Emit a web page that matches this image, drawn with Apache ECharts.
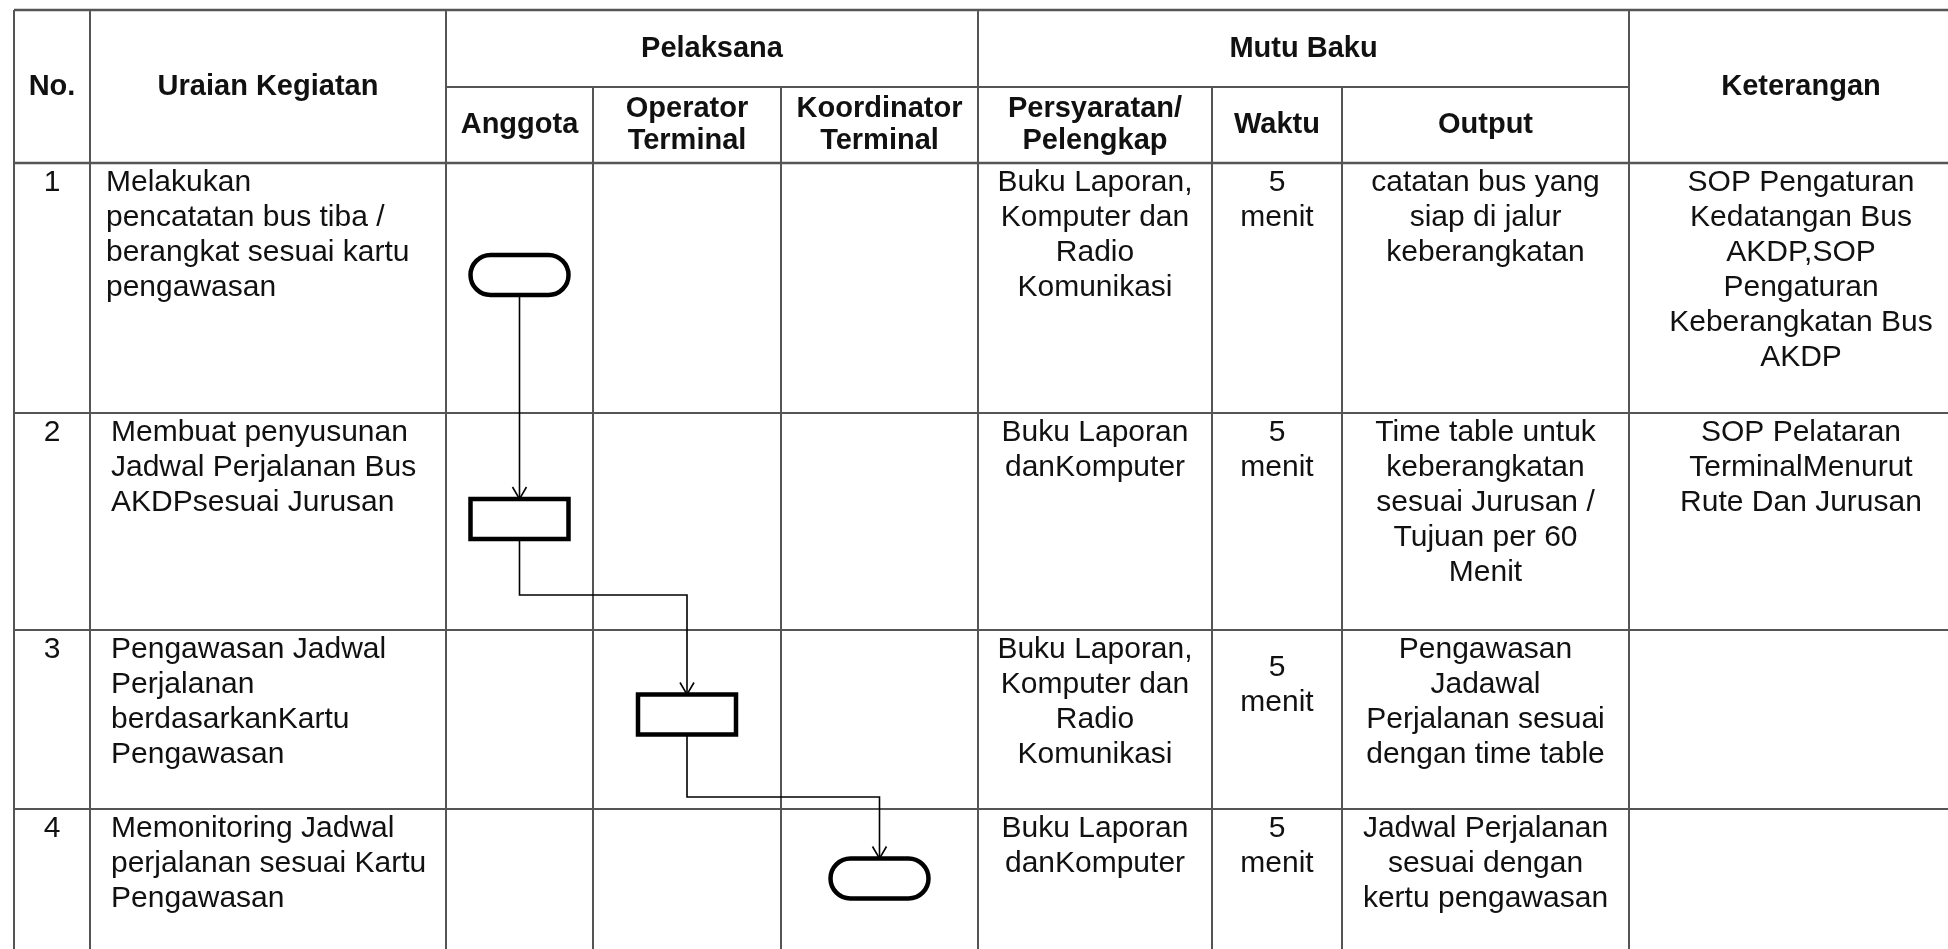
<!DOCTYPE html>
<html>
<head>
<meta charset="utf-8">
<script src="https://cdn.jsdelivr.net/npm/echarts@6/dist/echarts.min.js"></script>
<style>
  html, body { margin: 0; padding: 0; background: #fff; }
  #chart { width: 1948px; height: 949px; }
</style>
</head>
<body>
<div id="chart"></div>
<script>
// ---------------- DATA (content) ----------------
const headNo = 'No.';
const headUraian = 'Uraian Kegiatan';
const headPelaksana = 'Pelaksana';
const headMutuBaku = 'Mutu Baku';
const headKeterangan = 'Keterangan';
const pelaksanaRoles = ['Anggota', 'Operator\nTerminal', 'Koordinator\nTerminal'];
const mutuBakuCols = ['Persyaratan/\nPelengkap', 'Waktu', 'Output'];

const stepNo = ['1', '2', '3', '4'];
const uraianKegiatan = [
  'Melakukan\npencatatan bus tiba /\nberangkat sesuai kartu\npengawasan',
  'Membuat penyusunan\nJadwal Perjalanan Bus\nAKDPsesuai Jurusan',
  'Pengawasan Jadwal\nPerjalanan\nberdasarkanKartu\nPengawasan',
  'Memonitoring Jadwal\nperjalanan sesuai Kartu\nPengawasan'
];
const persyaratan = [
  'Buku Laporan,\nKomputer dan\nRadio\nKomunikasi',
  'Buku Laporan\ndanKomputer',
  'Buku Laporan,\nKomputer dan\nRadio\nKomunikasi',
  'Buku Laporan\ndanKomputer'
];
const waktu = ['5\nmenit', '5\nmenit', '5\nmenit', '5\nmenit'];
const outputs = [
  'catatan bus yang\nsiap di jalur\nkeberangkatan',
  'Time table untuk\nkeberangkatan\nsesuai Jurusan /\nTujuan per 60\nMenit',
  'Pengawasan\nJadawal\nPerjalanan sesuai\ndengan time table',
  'Jadwal Perjalanan\nsesuai dengan\nkertu pengawasan'
];
const keterangan = [
  'SOP Pengaturan\nKedatangan Bus\nAKDP,SOP\nPengaturan\nKeberangkatan Bus\nAKDP',
  'SOP Pelataran\nTerminalMenurut\nRute Dan Jurusan',
  '',
  ''
];
// flow: which Pelaksana lane performs each step, and its symbol
const flowLane = [0, 0, 1, 2];
const flowShape = ['terminator', 'process', 'process', 'terminator'];

// ---------------- LAYOUT (positions / sizes, in page px) ----------------
const colX = [14, 90, 446, 593, 781, 978, 1212, 1342, 1629, 1973];
const rowY = [10, 87, 163, 413, 630, 809, 960];
const uraianIndent = [16, 21, 21, 21];
const waktuShift = [0, 0, 18, 0];
const shapeShiftY = [-13, -2.5, -5, -6];
const elbowGap = [0, 35, 12];
const shapeW = 98, shapeH = 40;

// ---------------- STYLE ----------------
const FONT = '"Liberation Sans", Arial, sans-serif';
const TXT = '#111';
const GRID = '#555';
const bodySize = 30, bodyLH = 35, headSize = 29, headLH = 32;

// ---------------- BUILD ITEMS ----------------
const mid = (a, b) => (a + b) / 2;

// grid lines
const lines = [];
const xl = colX[0], xr = colX[colX.length - 1];
const yb = rowY[rowY.length - 1];
lines.push([xl, rowY[0], xr, rowY[0], 2.5]);
lines.push([colX[2], rowY[1], colX[8], rowY[1], 2]);
lines.push([xl, rowY[2], xr, rowY[2], 2.5]);
for (let r = 3; r < rowY.length - 1; r++) lines.push([xl, rowY[r], xr, rowY[r], 2]);
[0, 1, 2, 5, 8, 9].forEach(i => lines.push([colX[i], rowY[0], colX[i], yb, 2]));
[3, 4, 6, 7].forEach(i => lines.push([colX[i], rowY[1], colX[i], yb, 2]));

// texts
const texts = [];
function headCell(text, c0, c1, y0, y1) {
  texts.push({ x: mid(colX[c0], colX[c1]), y: mid(y0, y1), text, align: 'center', va: 'middle', bold: true });
}
headCell(headNo, 0, 1, rowY[0], rowY[2]);
headCell(headUraian, 1, 2, rowY[0], rowY[2]);
headCell(headPelaksana, 2, 5, rowY[0], rowY[1]);
headCell(headMutuBaku, 5, 8, rowY[0], rowY[1]);
headCell(headKeterangan, 8, 9, rowY[0], rowY[2]);
pelaksanaRoles.forEach((t, i) => headCell(t, 2 + i, 3 + i, rowY[1], rowY[2]));
mutuBakuCols.forEach((t, i) => headCell(t, 5 + i, 6 + i, rowY[1], rowY[2]));

for (let r = 0; r < stepNo.length; r++) {
  const top = rowY[r + 2] + 2;
  const body = (text, x, align, dy) => texts.push({ x, y: top + (dy || 0), text, align, va: 'top', bold: false });
  body(stepNo[r], mid(colX[0], colX[1]), 'center');
  body(uraianKegiatan[r], colX[1] + uraianIndent[r], 'left');
  body(persyaratan[r], mid(colX[5], colX[6]), 'center');
  body(waktu[r], mid(colX[6], colX[7]), 'center', waktuShift[r]);
  body(outputs[r], mid(colX[7], colX[8]), 'center');
  if (keterangan[r]) body(keterangan[r], mid(colX[8], colX[9]), 'center');
}

// flow shapes
const shapes = flowLane.map((lane, i) => ({
  cx: mid(colX[2 + lane], colX[3 + lane]),
  cy: mid(rowY[i + 2], rowY[i + 3]) + shapeShiftY[i],
  kind: flowShape[i]
}));

// connectors
const connectors = [];
for (let i = 0; i < shapes.length - 1; i++) {
  const a = shapes[i], b = shapes[i + 1];
  const y1 = a.cy + shapeH / 2, y2 = b.cy - shapeH / 2;
  let pts;
  if (a.cx === b.cx) pts = [[a.cx, y1], [b.cx, y2]];
  else {
    const ey = rowY[i + 3] - elbowGap[i];
    pts = [[a.cx, y1], [a.cx, ey], [b.cx, ey], [b.cx, y2]];
  }
  connectors.push(pts);
}

// ---------------- CHART ----------------
const chart = echarts.init(document.getElementById('chart'), null, { renderer: 'canvas' });

function coordPts(api, pts) { return pts.map(p => api.coord(p)); }

chart.setOption({
  animation: false,
  backgroundColor: '#ffffff',
  grid: { left: 0, right: 0, top: 0, bottom: 0, containLabel: false },
  xAxis: { type: 'value', min: 0, max: 1948, show: false },
  yAxis: { type: 'value', min: 0, max: 949, inverse: true, show: false },
  series: [
    {
      type: 'custom', name: 'grid', clip: false, silent: true,
      data: lines.map(l => [l[0], l[1]]),
      renderItem(params, api) {
        const l = lines[params.dataIndex];
        const p1 = api.coord([l[0], l[1]]), p2 = api.coord([l[2], l[3]]);
        return { type: 'line', shape: { x1: p1[0], y1: p1[1], x2: p2[0], y2: p2[1] },
                 style: { stroke: GRID, lineWidth: l[4] } };
      }
    },
    {
      type: 'custom', name: 'connectors', clip: false, silent: true,
      data: connectors.map(c => c[0]),
      renderItem(params, api) {
        const pts = coordPts(api, connectors[params.dataIndex]);
        const tip = pts[pts.length - 1];
        return { type: 'group', children: [
          { type: 'polyline', shape: { points: pts }, style: { stroke: '#000', lineWidth: 1.6, fill: null } },
          { type: 'polyline', shape: { points: [[tip[0] - 7, tip[1] - 12], tip, [tip[0] + 7, tip[1] - 12]] },
            style: { stroke: '#000', lineWidth: 1.6, fill: null } }
        ]};
      }
    },
    {
      type: 'custom', name: 'flow', clip: false, silent: true,
      data: shapes.map(s => [s.cx, s.cy]),
      renderItem(params, api) {
        const s = shapes[params.dataIndex];
        const c = api.coord([s.cx, s.cy]);
        const sz = api.size([shapeW, shapeH]);
        return { type: 'rect',
          shape: { x: c[0] - sz[0] / 2, y: c[1] - sz[1] / 2, width: sz[0], height: sz[1], r: s.kind === 'terminator' ? sz[1] / 2 : 0 },
          style: { fill: '#fff', stroke: '#000', lineWidth: 4.5 } };
      }
    },
    {
      type: 'custom', name: 'texts', clip: false, silent: true,
      data: texts.map(t => [t.x, t.y]),
      renderItem(params, api) {
        const t = texts[params.dataIndex];
        const p = api.coord([t.x, t.y]);
        return { type: 'text', x: p[0], y: p[1],
          style: { text: t.text, fill: TXT, fontFamily: FONT,
                   fontSize: t.bold ? headSize : bodySize, fontWeight: t.bold ? 'bold' : 'normal',
                   lineHeight: t.bold ? headLH : bodyLH, align: t.align, verticalAlign: t.va } };
      }
    }
  ]
});
</script>
</body>
</html>
